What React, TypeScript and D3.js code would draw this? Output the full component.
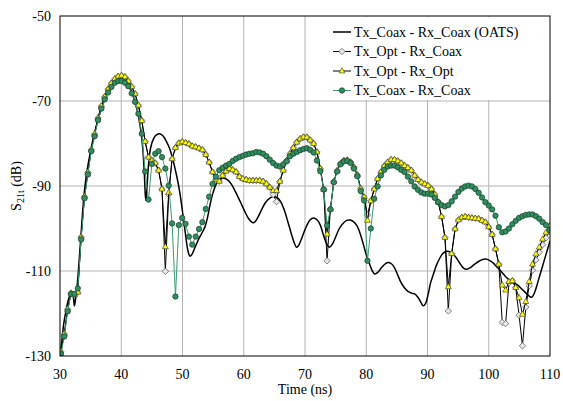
import React from 'react';
import * as d3 from 'd3';

// sampling grid of the measured series (ns)
const T0 = 30.15;
const DT = 0.55;

// Tx_Coax - Rx_Coax (OATS) : smooth curve, [time, dB]
const oatsTime = [30.0,30.3,30.6,31.0,31.4,31.8,32.1,32.35,32.55,32.8,33.1,33.5,33.9,34.3,34.8,35.3,35.8,36.4,37.0,37.6,38.2,38.8,39.4,39.9,40.5,41.1,41.7,42.3,42.8,43.2,43.5,43.75,43.95,44.05,44.2,44.45,44.8,45.3,45.8,46.3,46.8,47.3,47.9,48.5,49.0,49.5,50.0,50.5,50.9,51.2,51.5,52.0,52.6,53.2,53.7,54.1,54.5,55.0,55.6,56.2,56.8,57.4,58.0,58.7,59.4,60.1,60.8,61.4,61.8,62.3,62.9,63.5,64.2,64.8,65.4,66.0,66.6,67.2,67.8,68.3,68.6,68.9,69.3,69.8,70.3,70.8,71.4,72.0,72.5,73.0,73.5,74.0,74.5,75.0,75.6,76.2,76.8,77.35,77.9,78.5,79.0,79.5,80.0,80.5,81.0,81.4,81.9,82.5,83.1,83.6,84.1,84.6,85.1,85.6,86.2,86.8,87.4,87.9,88.4,88.9,89.3,89.7,90.1,90.5,91.0,91.5,92.0,92.5,93.0,93.5,94.0,94.6,95.2,95.8,96.4,97.0,97.7,98.4,99.0,99.5,100.1,100.7,101.3,101.9,102.5,103.1,103.7,104.3,104.8,105.3,105.8,106.3,106.8,107.1,107.5,107.9,108.4,108.8,109.2,109.6,110.0];
const oatsValue = [-130,-126.5,-122.5,-119.2,-116.6,-115.2,-115.6,-118.2,-116.5,-113.5,-108,-100,-92.5,-87.5,-83.2,-79.6,-76.6,-73.5,-70.8,-68.5,-66.7,-65.3,-64.7,-64.5,-64.9,-66.0,-67.9,-70.5,-73.5,-77,-81,-86.5,-92.5,-93.4,-90.5,-85,-81,-78.8,-77.9,-77.7,-78.2,-79.3,-81.2,-84.2,-87.3,-91,-96,-101.5,-105.3,-106.5,-106.2,-104.6,-102.6,-101.0,-99.5,-97.3,-94.4,-91.5,-89.3,-88.4,-88.2,-88.6,-89.6,-91.5,-93.6,-95.8,-97.7,-98.6,-98.5,-97.4,-95.6,-94.0,-92.9,-92.5,-92.7,-93.6,-95.6,-98.4,-101.4,-103.6,-104.4,-104.1,-102.9,-101.0,-99.3,-98.0,-97.5,-98.0,-99.2,-101.5,-103.5,-104.4,-103.6,-102.0,-100.0,-98.8,-98.1,-98.0,-98.4,-99.4,-101.2,-103.6,-106.2,-108.2,-110.0,-110.7,-110.3,-109.2,-108.3,-108.0,-108.3,-109.2,-110.8,-112.5,-113.9,-114.8,-115.2,-115.4,-116.1,-117.3,-118.2,-117.6,-115.5,-112.8,-110.6,-108.5,-107.0,-105.9,-105.4,-105.4,-105.8,-106.7,-108.0,-109.2,-109.6,-109.2,-108.4,-107.7,-107.3,-107.2,-107.5,-108.1,-109.0,-109.9,-110.9,-111.8,-112.4,-112.9,-113.4,-114.1,-114.8,-115.5,-116.1,-116.1,-115.0,-113.2,-110.7,-108.8,-106.8,-104.9,-102.9];

// Tx_Opt - Rx_Coax (diamonds)
const optCoax = [
-129.0,-124.8,-119.0,-115.2,-115.6,-115.0,-102.0,-92.5,-86.8,-81.5,
-77.8,-74.0,-71.2,-69.0,-67.2,-65.8,-64.8,-64.2,-64.0,-64.3,
-65.3,-66.6,-68.3,-71.0,-74.6,-79.5,-83.2,-84.0,-84.6,-86.3,
-90.7,-110.1,-92.0,-83.6,-81.0,-79.9,-79.6,-79.8,-80.1,-80.6,
-80.8,-81.1,-81.5,-82.6,-84.4,-86.7,-88.4,-88.9,-87.5,-86.5,
-85.9,-86.2,-86.7,-87.8,-88.3,-88.5,-88.7,-88.7,-88.7,-88.7,
-88.9,-89.5,-90.3,-92.0,-93.7,-88.9,-86.3,-84.0,-82.4,-81.0,
-79.7,-78.9,-78.5,-78.5,-79.2,-80.0,-82.0,-85.9,-90.8,-107.6,
-95.4,-89.0,-86.4,-84.7,-84.0,-83.9,-84.4,-85.6,-87.4,-90.6,
-92.6,-96.8,-93.5,-90.7,-88.3,-86.7,-85.3,-84.4,-83.8,-83.8,
-84.1,-84.6,-85.2,-85.7,-86.3,-87.5,-88.5,-89.1,-89.5,-89.9,
-90.7,-92.0,-93.8,-97.2,-102.1,-119.4,-105.9,-100.1,-98.0,-97.4,
-97.2,-97.4,-97.5,-97.6,-97.7,-98.1,-98.5,-99.6,-101.4,-104.8,
-108.4,-122.1,-122.4,-112.8,-112.3,-113.9,-120.4,-127.6,-118.5,-113.5,
-109.8,-107.4,-105.6,-103.8,-102.2,-100.6];

// Tx_Opt - Rx_Opt (triangles)
const optOpt = [
-129.0,-124.8,-119.0,-115.2,-115.6,-115.0,-102.0,-92.5,-86.8,-81.5,
-77.8,-74.0,-71.2,-69.0,-67.2,-65.8,-64.8,-64.2,-64.0,-64.3,
-65.3,-66.6,-68.3,-71.0,-74.6,-79.5,-83.2,-84.0,-84.6,-86.3,
-90.7,-104.3,-91.5,-83.6,-81.0,-79.9,-79.6,-79.8,-80.1,-80.6,
-80.8,-81.1,-81.5,-82.6,-84.4,-86.7,-88.4,-88.9,-87.5,-86.5,
-85.9,-86.2,-86.7,-87.8,-88.3,-88.5,-88.7,-88.7,-88.7,-88.7,
-88.9,-89.5,-90.3,-91.1,-91.1,-88.9,-86.3,-84.0,-82.4,-81.0,
-79.7,-78.9,-78.5,-78.5,-79.2,-80.0,-82.0,-85.9,-90.8,-101.3,
-95.4,-89.0,-86.4,-84.7,-84.0,-83.9,-84.4,-85.6,-87.4,-90.6,
-92.6,-98.1,-93.5,-90.7,-88.3,-86.7,-85.3,-84.4,-83.8,-83.8,
-84.1,-84.6,-85.2,-85.7,-86.3,-87.5,-88.5,-89.1,-89.5,-89.9,
-90.7,-92.0,-93.8,-97.2,-102.1,-113.7,-105.9,-100.1,-98.0,-97.4,
-97.2,-97.4,-97.5,-97.6,-97.7,-98.1,-98.5,-99.6,-101.4,-104.8,
-108.4,-113.3,-114.5,-112.5,-112.3,-113.9,-116.3,-120.2,-117.2,-112.5,
-108.4,-106.0,-104.4,-102.5,-100.9,-99.4];

// Tx_Coax - Rx_Coax (circles)
const coaxCoax = [
-129.5,-125.4,-119.5,-115.4,-115.4,-114.1,-102.6,-92.9,-87.3,-81.8,
-78.3,-74.5,-71.8,-69.6,-68.0,-66.7,-65.7,-65.3,-65.3,-65.7,
-66.5,-68.2,-70.2,-73.0,-77.7,-86.6,-93.2,-84.8,-82.4,-81.8,
-83.2,-85.9,-89.9,-98.8,-116.0,-99.2,-97.5,-98.9,-101.9,-103.8,
-101.9,-100.1,-98.5,-95.4,-92.5,-89.5,-87.8,-86.3,-85.7,-85.2,
-84.8,-84.1,-83.6,-83.2,-82.9,-82.6,-82.4,-82.3,-82.0,-82.1,
-82.4,-83.0,-83.8,-84.6,-85.2,-85.4,-84.9,-84.2,-83.0,-82.4,
-82.0,-81.6,-81.3,-81.1,-81.5,-82.1,-84.0,-86.5,-90.8,-99.3,
-95.5,-89.1,-86.6,-84.9,-84.2,-84.1,-84.6,-85.9,-87.7,-91.2,
-93.4,-107.6,-100.0,-93.0,-90.1,-87.5,-86.2,-85.4,-85.2,-85.2,
-85.6,-86.2,-86.7,-87.8,-88.9,-90.1,-90.9,-91.5,-91.8,-91.8,
-92.0,-92.8,-93.8,-94.5,-94.8,-94.5,-93.6,-92.5,-91.4,-90.6,
-90.1,-89.9,-90.1,-90.7,-91.6,-92.7,-93.8,-94.6,-95.5,-97.0,
-99.7,-100.9,-100.7,-100.0,-99.0,-98.2,-97.5,-97.1,-96.8,-96.7,
-96.7,-97.1,-97.7,-98.5,-99.2,-100.4];

const xTicks = [30, 40, 50, 60, 70, 80, 90, 100, 110];
const yTicks = [-130, -110, -90, -70, -50];
const legendLabels = [
  'Tx_Coax - Rx_Coax (OATS)',
  'Tx_Opt - Rx_Coax',
  'Tx_Opt - Rx_Opt',
  'Tx_Coax - Rx_Coax',
];

const W = 563;
const H = 401;
const FONT = '"Liberation Serif", "DejaVu Serif", "Times New Roman", Times, serif';

const TRI = 'M0,-3.3L3,1.9L-3,1.9Z';
const DIA = 'M0,-3.2L3.2,0L0,3.2L-3.2,0Z';

export default function App() {
  const x = d3.scaleLinear().domain([30, 110]).range([60, 550]);
  const y = d3.scaleLinear().domain([-130, -50]).range([356, 16]);
  const tAt = (i: number) => T0 + i * DT;

  const oatsPts: [number, number][] = oatsTime.map((t, i) => [t, oatsValue[i]]);
  const oatsLine = d3
    .line<[number, number]>()
    .x((d) => x(d[0]))
    .y((d) => y(d[1]))
    .curve(d3.curveCatmullRom.alpha(0.5));

  const seriesLine = d3
    .line<number>()
    .x((_, i) => x(tAt(i)))
    .y((d) => y(d));

  const series = [
    { data: optCoax, line: '#000', shape: 'dia' },
    { data: optOpt, line: '#000', shape: 'tri' },
    { data: coaxCoax, line: '#3c9c6c', shape: 'circ' },
  ];

  const marker = (shape: string, cx: number, cy: number, key: any) => {
    if (shape === 'circ')
      return <circle key={key} cx={cx} cy={cy} r={2.7} fill="#2f8f5f" stroke="#1b3a28" strokeWidth={0.7} />;
    if (shape === 'tri')
      return <path key={key} d={TRI} transform={`translate(${cx},${cy})`} fill="#ffff00" stroke="#333" strokeWidth={0.6} />;
    return <path key={key} d={DIA} transform={`translate(${cx},${cy})`} fill="#e6e6e6" stroke="#555" strokeWidth={0.7} />;
  };

  const legendY = [32, 51.5, 71, 90.5];
  const textStyle = { fontFamily: FONT } as React.CSSProperties;

  return (
    <svg width={W} height={H} style={{ position: 'absolute', left: 0, top: 0, background: '#fff', fontFamily: FONT }}>
      <defs>
        <clipPath id="plot">
          <rect x={60} y={16} width={490} height={340} />
        </clipPath>
      </defs>
      <rect x={0} y={0} width={W} height={H} fill="#fff" />
      {/* grid */}
      {xTicks.slice(1, -1).map((t) => (
        <line key={'gx' + t} x1={x(t)} x2={x(t)} y1={16} y2={356} stroke="#b3b3b3" strokeWidth={1} />
      ))}
      {yTicks.slice(1, -1).map((v) => (
        <line key={'gy' + v} x1={60} x2={550} y1={y(v)} y2={y(v)} stroke="#b3b3b3" strokeWidth={1} />
      ))}
      <g clipPath="url(#plot)">
        <path d={oatsLine(oatsPts) || ''} fill="none" stroke="#000" strokeWidth={1.5} />
        {series.map((s, si) => (
          <g key={'s' + si}>
            <path d={seriesLine(s.data) || ''} fill="none" stroke={s.line} strokeWidth={1} />
            {s.data.map((v, i) => marker(s.shape, x(tAt(i)), y(v), i))}
          </g>
        ))}
      </g>
      <rect x={60} y={16} width={490} height={340} fill="none" stroke="#000" strokeWidth={1} />
      {/* tick labels */}
      {yTicks.map((v) => (
        <text key={'yl' + v} x={51} y={y(v) + 5} textAnchor="end" fontSize={14} style={textStyle}>
          {v}
        </text>
      ))}
      {xTicks.map((t) => (
        <text key={'xl' + t} x={x(t)} y={379} textAnchor="middle" fontSize={14} style={textStyle}>
          {t}
        </text>
      ))}
      <text x={305} y={394} textAnchor="middle" fontSize={14} style={textStyle}>
        Time (ns)
      </text>
      <text transform="translate(21,186) rotate(-90)" textAnchor="middle" fontSize={14} style={textStyle}>
        S<tspan fontSize={10} dy={3}>21t</tspan>
        <tspan dy={-3}> (dB)</tspan>
      </text>
      {/* legend */}
      <rect x={328} y={17} width={221} height={83} fill="#fff" />
      {legendLabels.map((lab, i) => {
        const ly = legendY[i];
        const shape = i === 1 ? 'dia' : i === 2 ? 'tri' : 'circ';
        const col = i === 3 ? '#3c9c6c' : '#000';
        return (
          <g key={'lg' + i}>
            <line x1={333} x2={351} y1={ly} y2={ly} stroke={col} strokeWidth={i === 0 ? 1.5 : 1} />
            {i > 0 && marker(shape, 342, ly, 'm')}
            <text x={354} y={ly + 4.5} fontSize={14} style={textStyle}>
              {lab}
            </text>
          </g>
        );
      })}
    </svg>
  );
}
